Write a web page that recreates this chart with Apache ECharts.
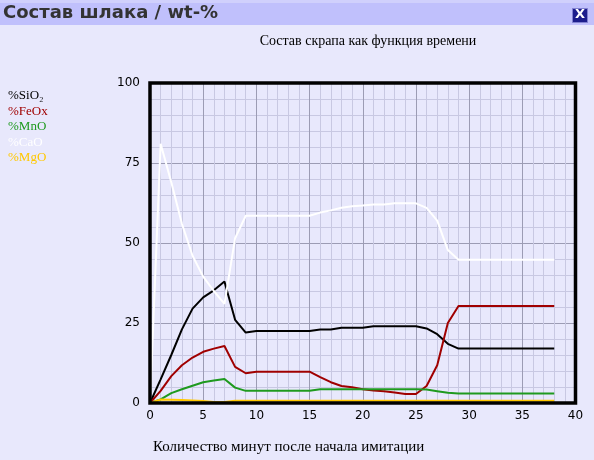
<!DOCTYPE html>
<html>
<head>
<meta charset="utf-8">
<script src="https://cdn.jsdelivr.net/npm/echarts/dist/echarts.min.js"></script>
<style>
  html, body { margin: 0; padding: 0; background: #e8e8fc; }
  #chart { width: 594px; height: 460px; }
</style>
</head>
<body>
<div id="chart"></div>
<script>
// минуты после начала имитации
var minutes = [0,1,2,3,4,5,6,7,8,9,10,11,12,13,14,15,16,17,18,19,20,21,22,23,24,25,26,27,28,29,30,31,32,33,34,35,36,37,38]
// состав шлака, wt-%
var sio2 = [0,7.4,15,23,29.5,33,35.2,38,26,22,22.5,22.5,22.5,22.5,22.5,22.5,23,23,23.5,23.5,23.5,24,24,24,24,24,23.3,21.5,18.5,17,17,17,17,17,17,17,17,17,17]
var feox = [0,3.8,8.4,11.8,14.2,16,17,17.8,11.3,9.3,9.8,9.8,9.8,9.8,9.8,9.8,8.1,6.5,5.3,4.9,4.3,3.9,3.7,3.3,2.8,2.8,5.3,11.8,25,30.3,30.3,30.3,30.3,30.3,30.3,30.3,30.3,30.3,30.3]
var mno = [0,1.1,3.1,4.3,5.4,6.5,7,7.5,4.8,3.8,3.8,3.8,3.8,3.8,3.8,3.8,4.3,4.3,4.3,4.3,4.3,4.3,4.3,4.3,4.3,4.3,4.2,3.7,3.2,3,3,3,3,3,3,3,3,3,3]
var cao = [0,81,69,56,46,39.5,35,31,51.5,58.5,58.5,58.5,58.5,58.5,58.5,58.5,59.5,60.2,61,61.5,61.7,62,62,62.4,62.4,62.4,61,57,47.8,44.8,44.8,44.8,44.8,44.8,44.8,44.8,44.8,44.8,44.8]
var mgo = [0,1.1,1,0.9,0.8,0.6,0.3,0.3,0.7,0.7,0.7,0.7,0.7,0.7,0.7,0.7,0.7,0.7,0.7,0.7,0.7,0.7,0.7,0.7,0.7,0.7,0.7,0.7,0.7,0.7,0.7,0.7,0.7,0.7,0.7,0.7,0.7,0.7,0.7]

var names = ['%SiO₂', '%FeOx', '%MnO', '%CaO', '%MgO']
var colors = ['#000000', '#a00000', '#1f9a1f', '#ffffff', '#ffc800']
var values = [sio2, feox, mno, cao, mgo]

function pairs (arr) {
  var out = []
  for (var i = 0; i < minutes.length; i++) {
    out.push([minutes[i], arr[i]])
  }
  return out
}

var chart = echarts.init(document.getElementById('chart'))

var series = []
for (var k = 0; k < names.length; k++) {
  series.push({
    name: names[k],
    type: 'line',
    data: pairs(values[k]),
    showSymbol: false,
    color: colors[k],
    lineStyle: {width: 2, color: colors[k]}
  })
}

var option = {
  backgroundColor: '#e8e8fc',
  animation: false,
  title: {
    text: 'Состав скрапа как функция времени',
    left: 363,
    textAlign: 'center',
    top: 29,
    textStyle: {fontFamily: 'Liberation Serif', fontSize: 14, fontWeight: 'normal', color: '#000'}
  },
  legend: {
    orient: 'vertical',
    left: -2,
    top: 84,
    icon: 'none',
    itemWidth: 0,
    itemHeight: 14,
    itemGap: 2,
    selectedMode: false,
    data: names.map(function (n, i) {
      return {name: n, textStyle: {color: colors[i]}}
    }),
    textStyle: {fontFamily: 'Liberation Serif', fontSize: 13}
  },
  grid: {
    left: 150,
    right: 18.5,
    top: 83,
    bottom: 57,
    show: true,
    z: 5,
    borderWidth: 3.5,
    borderColor: '#000',
    backgroundColor: 'transparent'
  },
  xAxis: {
    type: 'value',
    min: 0,
    max: 40,
    interval: 5,
    axisLine: {show: false},
    axisTick: {show: false},
    axisLabel: {color: '#000', fontFamily: 'DejaVu Sans', fontSize: 12, margin: 7},
    splitLine: {show: true, lineStyle: {color: '#9c9cb4', width: 1}},
    minorTick: {show: false, splitNumber: 5},
    minorSplitLine: {show: true, lineStyle: {color: '#c8c8e2', width: 1}}
  },
  yAxis: {
    type: 'value',
    min: 0,
    max: 100,
    interval: 25,
    axisLine: {show: false},
    axisTick: {show: false},
    axisLabel: {color: '#000', fontFamily: 'DejaVu Sans', fontSize: 12, margin: 10},
    splitLine: {show: true, lineStyle: {color: '#9c9cb4', width: 1}},
    minorTick: {show: false, splitNumber: 5},
    minorSplitLine: {show: true, lineStyle: {color: '#c8c8e2', width: 1}}
  },
  graphic: [
    {type: 'rect', left: 0, top: 0, shape: {width: 594, height: 25}, style: {fill: '#c0c0fc'}},
    {type: 'rect', left: 0, top: 0, shape: {width: 594, height: 3}, style: {fill: '#d0d0fc'}},
    {
      type: 'text', left: 3, top: 4,
      style: {text: 'Состав шлака / wt-%', font: 'bold 18px "DejaVu Sans"', fill: '#333333'}
    },
    {type: 'rect', left: 572, top: 8, shape: {width: 15, height: 14}, style: {fill: '#1c1c8c', stroke: '#8080d0', lineWidth: 1}},
    {
      type: 'text', left: 575, top: 8,
      style: {text: 'X', font: 'bold 13px "DejaVu Sans"', fill: '#ffffff'}
    },
    {
      type: 'text', left: 153, top: 440,
      style: {text: 'Количество минут после начала имитации', font: '15px "Liberation Serif"', fill: '#000'}
    }
  ],
  series: series
}

chart.setOption(option)
</script>
</body>
</html>
